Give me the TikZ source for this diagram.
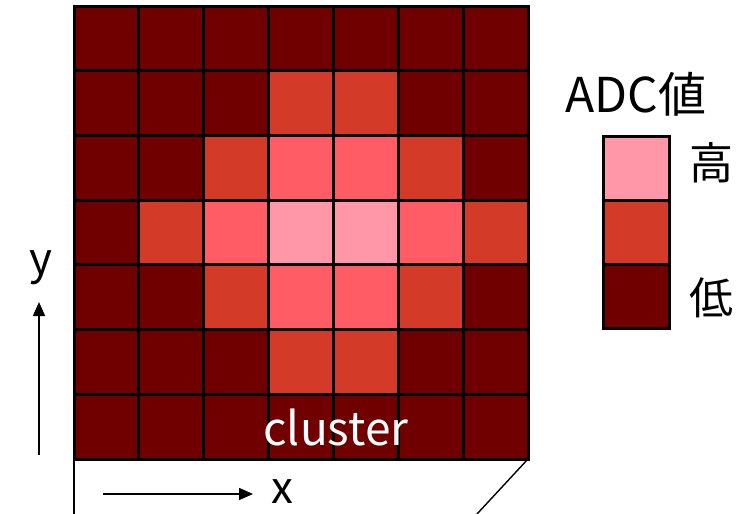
\documentclass[tikz,border=0pt]{standalone}
\usepackage{fontspec}
\setmainfont{Noto Sans CJK JP}
\usetikzlibrary{arrows.meta}
\definecolor{c0}{HTML}{700000}
\definecolor{c1}{HTML}{D33B28}
\definecolor{c2}{HTML}{FF5C66}
\definecolor{c3}{HTML}{FF97A8}
\tikzset{
  gridline/.style={line width=3pt, line cap=rect},
  thinline/.style={line width=1.4pt},
  axisarrow/.style={line width=1.6pt, -{Triangle[length=14pt,width=12pt]}},
  bigtext/.style={font=\fontsize{44}{50}\selectfont, inner sep=0pt},
}
\begin{document}
\begin{tikzpicture}[x=1pt,y=-1pt]
\useasboundingbox (0,0) rectangle (753,514);
\def\cw{64.857}
\def\ch{64.714}
% cells
\foreach \r/\vals in {0/{0,0,0,0,0,0,0},1/{0,0,0,1,1,0,0},2/{0,0,1,2,2,1,0},3/{0,1,2,3,3,2,1},4/{0,0,1,2,2,1,0},5/{0,0,0,1,1,0,0},6/{0,0,0,0,0,0,0}}{
  \foreach \v [count=\c from 0] in \vals {
    \fill[c\v] (74+\c*\cw, 6+\r*\ch) rectangle ++(\cw,\ch);
  }
}
% grid lines
\foreach \i in {0,...,7}{
  \draw[gridline] (74+\i*\cw,6) -- (74+\i*\cw,459);
  \draw[gridline] (74,6+\i*\ch) -- (528,6+\i*\ch);
}
\node[bigtext, font=\fontsize{46}{52}\selectfont, text=white] (cl) at (336,427) {cluster};
% base shape
\coordinate (bl) at (74,459);
\coordinate (br) at (528,459);
\coordinate (blb) at (74,514);
\coordinate (brb) at (477,514);
\draw[thinline] (bl) -- (blb);
\draw[thinline] (br) -- (brb);
% axes
\coordinate (ys) at (39,455);
\coordinate (ye) at (39,302);
\draw[axisarrow] (ys) -- (ye);
\node[bigtext] (ylab) at (41,268) {y};
\coordinate (xs) at (103,494);
\coordinate (xe) at (253,494);
\draw[axisarrow] (xs) -- (xe);
\node[bigtext] (xlab) at (282,492) {x};
% legend
\node[bigtext, font=\fontsize{48}{54}\selectfont, anchor=base west] (adc) at (565,112) {ADC値};
\draw[gridline, fill=c3] (603,136) rectangle (669,200);
\draw[gridline, fill=c1] (603,200) rectangle (669,264);
\draw[gridline, fill=c0] (603,264) rectangle (669,328);
\node[bigtext] (hi) at (711,163) {高};
\node[bigtext] (lo) at (711,298) {低};
\end{tikzpicture}
\end{document}
